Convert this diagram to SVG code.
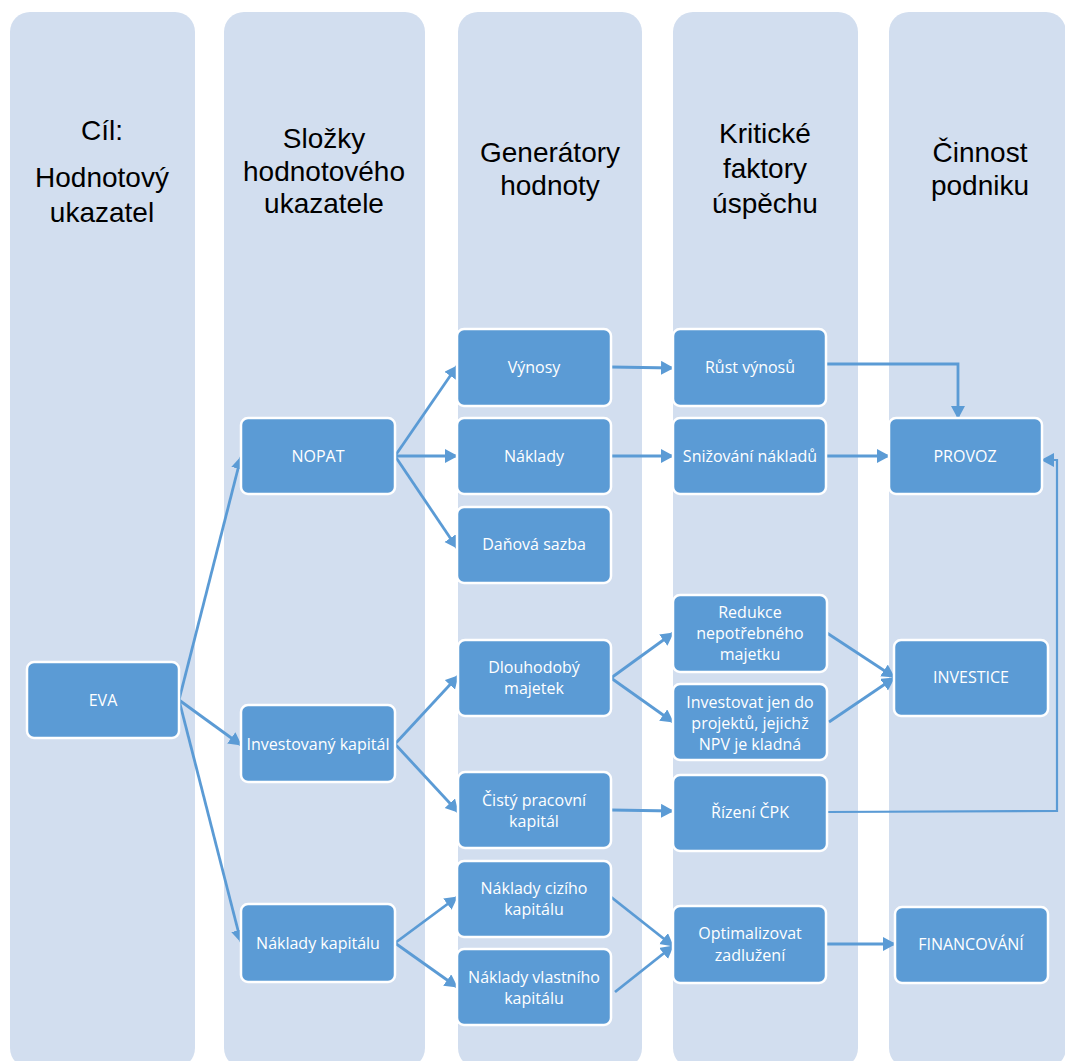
<svg xmlns="http://www.w3.org/2000/svg" width="1065" height="1061" viewBox="0 0 1065 1061">
<defs>
<style>
.lane{fill:#d2deef}
.hdr{font-family:"Liberation Sans",Arial,sans-serif;font-size:28px;fill:#000;text-anchor:middle}
.node rect{fill:#5b9bd5;stroke:#ffffff;stroke-width:2.5}
.node text{font-family:"Open Sans","Liberation Sans",sans-serif;font-size:16px;fill:#ffffff;text-anchor:middle}
.conn path{fill:none;stroke:#5b9bd5;stroke-width:2.8;marker-end:url(#arr)}
</style>
<marker id="arr" markerUnits="userSpaceOnUse" markerWidth="16" markerHeight="16" refX="12" refY="7" orient="auto">
<path d="M0,0 L13,7 L0,14 z" fill="#5b9bd5"/>
</marker>
</defs>
<rect width="1065" height="1061" fill="#ffffff"/>
<g id="lanes">
<rect class="lane" x="10" y="12" width="185" height="1056" rx="20"/>
<rect class="lane" x="224" y="12" width="201" height="1056" rx="20"/>
<rect class="lane" x="458" y="12" width="184" height="1056" rx="20"/>
<rect class="lane" x="673" y="12" width="185" height="1056" rx="20"/>
<rect class="lane" x="889" y="12" width="177" height="1056" rx="20"/>
</g>
<g id="headers">
<text class="hdr" x="102" y="140">Cíl:</text>
<text class="hdr" x="102" y="187">Hodnotový</text>
<text class="hdr" x="102" y="222">ukazatel</text>
<text class="hdr" x="324" y="148">Složky</text>
<text class="hdr" x="324" y="181">hodnotového</text>
<text class="hdr" x="324" y="213">ukazatele</text>
<text class="hdr" x="550" y="162">Generátory</text>
<text class="hdr" x="550" y="195">hodnoty</text>
<text class="hdr" x="765" y="143">Kritické</text>
<text class="hdr" x="765" y="178">faktory</text>
<text class="hdr" x="765" y="213">úspěchu</text>
<text class="hdr" x="980" y="162">Činnost</text>
<text class="hdr" x="980" y="195">podniku</text>
</g>
<g id="connectors" class="conn">
<path d="M179,700 L241,457"/>
<path d="M179,700 L241,745"/>
<path d="M179,700 L241,942"/>
<path d="M395,456 L457,366"/>
<path d="M395,456 L457,456"/>
<path d="M395,456 L457,548"/>
<path d="M395,744 L458,676"/>
<path d="M395,744 L458,812"/>
<path d="M395,943 L457,897"/>
<path d="M395,943 L457,987"/>
<path d="M611,367 L673,368"/>
<path d="M611,456 L673,456"/>
<path d="M826,364 L958,364 L958,418"/>
<path d="M826,456 L889,456"/>
<path d="M611,678 L673,633"/>
<path d="M611,678 L673,722"/>
<path d="M827,633 L894,677"/>
<path d="M829,722 L894,678"/>
<path d="M611,810 L673,811"/>
<path d="M827,812 L1057,811 L1057,460 L1042,460" style="stroke-width:2.2"/>
<path d="M611,897 L673,946"/>
<path d="M615,992 L673,946"/>
<path d="M826,944 L895,944"/>
</g>
<g id="n-eva" class="node"><rect x="27" y="662" width="152" height="76" rx="7"/><text x="103" y="706">EVA</text></g>
<g id="n-nopat" class="node"><rect x="241" y="418" width="154" height="76" rx="7"/><text x="318" y="462">NOPAT</text></g>
<g id="n-invkap" class="node"><rect x="241" y="705" width="154" height="77" rx="7"/><text x="318" y="750">Investovaný kapitál</text></g>
<g id="n-naklkap" class="node"><rect x="241" y="904" width="154" height="78" rx="7"/><text x="318" y="949">Náklady kapitálu</text></g>
<g id="n-vynosy" class="node"><rect x="457" y="329" width="154" height="77" rx="7"/><text x="534" y="373">Výnosy</text></g>
<g id="n-naklady" class="node"><rect x="457" y="418" width="154" height="76" rx="7"/><text x="534" y="462">Náklady</text></g>
<g id="n-dan" class="node"><rect x="457" y="507" width="154" height="76" rx="7"/><text x="534" y="550">Daňová sazba</text></g>
<g id="n-dlouh" class="node"><rect x="458" y="640" width="153" height="76" rx="7"/><text x="534" y="673">Dlouhodobý</text><text x="534" y="694">majetek</text></g>
<g id="n-cpk" class="node"><rect x="458" y="772" width="153" height="76" rx="7"/><text x="534" y="806">Čistý pracovní</text><text x="534" y="827">kapitál</text></g>
<g id="n-cizi" class="node"><rect x="457" y="861" width="154" height="76" rx="7"/><text x="534" y="894">Náklady cizího</text><text x="534" y="915">kapitálu</text></g>
<g id="n-vlast" class="node"><rect x="457" y="949" width="154" height="76" rx="7"/><text x="534" y="983">Náklady vlastního</text><text x="534" y="1004">kapitálu</text></g>
<g id="n-rust" class="node"><rect x="673" y="329" width="153" height="77" rx="7"/><text x="750" y="373">Růst výnosů</text></g>
<g id="n-sniz" class="node"><rect x="673" y="418" width="153" height="76" rx="7"/><text x="750" y="462">Snižování nákladů</text></g>
<g id="n-redukce" class="node"><rect x="673" y="595" width="154" height="77" rx="7"/><text x="750" y="618">Redukce</text><text x="750" y="639">nepotřebného</text><text x="750" y="660">majetku</text></g>
<g id="n-investovat" class="node"><rect x="673" y="684" width="154" height="76" rx="7"/><text x="750" y="708">Investovat jen do</text><text x="750" y="729">projektů, jejichž</text><text x="750" y="750">NPV je kladná</text></g>
<g id="n-rizeni" class="node"><rect x="673" y="775" width="154" height="76" rx="7"/><text x="750" y="818">Řízení ČPK</text></g>
<g id="n-optim" class="node"><rect x="673" y="906" width="153" height="77" rx="7"/><text x="750" y="939">Optimalizovat</text><text x="750" y="961">zadlužení</text></g>
<g id="n-provoz" class="node"><rect x="889" y="418" width="153" height="76" rx="7"/><text x="965" y="462">PROVOZ</text></g>
<g id="n-investice" class="node"><rect x="894" y="640" width="154" height="76" rx="7"/><text x="971" y="683">INVESTICE</text></g>
<g id="n-financ" class="node"><rect x="895" y="907" width="153" height="76" rx="7"/><text x="971" y="950">FINANCOVÁNÍ</text></g>
</svg>
